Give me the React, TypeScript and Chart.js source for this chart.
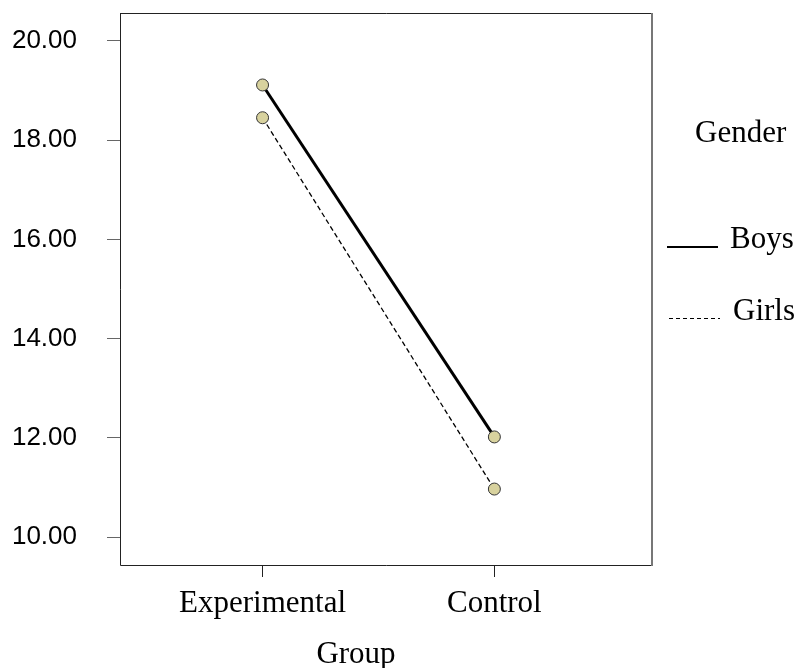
import React, { useEffect, useRef } from "react";
import { Chart, registerables } from "chart.js";

Chart.register(...registerables);

const categories = ["Experimental", "Control"];
const categoryPositions = [1, 2];
const boysValues = [19.11, 12.02];
const girlsValues = [18.45, 10.97];
const yTicks = [10, 12, 14, 16, 18, 20];
const seriesNames = ["Boys", "Girls"];
const legendTitle = "Gender";
const xTitle = "Group";

const SERIF = "'Liberation Serif', 'Times New Roman', serif";
const SANS = "'Liberation Sans', Arial, sans-serif";

const decorPlugin = {
  id: "decor",
  afterDraw(chart: any) {
    const { ctx, chartArea } = chart;
    const { left, right, top, bottom } = chartArea;
    ctx.save();
    // frame
    ctx.lineWidth = 1;
    ctx.strokeStyle = "#222";
    ctx.beginPath();
    ctx.moveTo(left + 0.5, top + 0.5);
    ctx.lineTo(right, top + 0.5);
    ctx.moveTo(left + 0.5, top);
    ctx.lineTo(left + 0.5, bottom + 0.5);
    ctx.lineTo(right, bottom + 0.5);
    ctx.stroke();
    ctx.strokeStyle = "#777";
    ctx.lineWidth = 2;
    ctx.beginPath();
    ctx.moveTo(right, top);
    ctx.lineTo(right, bottom + 1);
    ctx.stroke();

    // x title
    ctx.fillStyle = "#000";
    ctx.font = `31px ${SERIF}`;
    ctx.textAlign = "center";
    ctx.textBaseline = "alphabetic";
    ctx.fillText(xTitle, 356, 663);

    // legend
    ctx.textAlign = "left";
    ctx.fillText(legendTitle, 695, 142);
    ctx.fillText(seriesNames[0], 730, 248);
    ctx.fillText(seriesNames[1], 733, 320);

    ctx.strokeStyle = "#000";
    ctx.lineWidth = 2;
    ctx.beginPath();
    ctx.moveTo(667, 247);
    ctx.lineTo(718, 247);
    ctx.stroke();

    ctx.lineWidth = 1;
    ctx.setLineDash([4, 3]);
    ctx.beginPath();
    ctx.moveTo(669, 318.5);
    ctx.lineTo(720, 318.5);
    ctx.stroke();
    ctx.restore();
  },
};

export default function App() {
  const ref = useRef<HTMLCanvasElement | null>(null);

  useEffect(() => {
    if (!ref.current) return;
    const pointStyle = {
      pointRadius: 6,
      pointHoverRadius: 6,
      pointBackgroundColor: "#d8d29e",
      pointBorderColor: "#333",
      pointBorderWidth: 1,
    };
    const chart = new Chart(ref.current, {
      type: "line",
      data: {
        datasets: [
          {
            label: seriesNames[0],
            data: categoryPositions.map((x, i) => ({ x, y: boysValues[i] })),
            borderColor: "#000",
            borderWidth: 3,
            ...pointStyle,
          },
          {
            label: seriesNames[1],
            data: categoryPositions.map((x, i) => ({ x, y: girlsValues[i] })),
            borderColor: "#000",
            borderWidth: 1.3,
            borderDash: [5, 3],
            ...pointStyle,
          },
        ],
      },
      options: {
        animation: false,
        responsive: false,
        maintainAspectRatio: false,
        layout: { padding: { top: 13, right: 146, left: 0, bottom: 0 } },
        plugins: {
          legend: { display: false },
          tooltip: { enabled: false },
        },
        scales: {
          x: {
            type: "linear",
            min: 0.385,
            max: 2.68,
            afterBuildTicks: (scale: any) => {
              scale.ticks = categoryPositions.map((v) => ({ value: v }));
            },
            afterFit: (scale: any) => {
              scale.height = 103;
              scale.paddingLeft = 0;
              scale.paddingRight = 0;
            },
            border: { display: false },
            grid: {
              drawOnChartArea: false,
              drawTicks: true,
              tickLength: 12,
              color: "#222",
              lineWidth: 1,
            },
            ticks: {
              padding: 8,
              color: "#000",
              font: { family: SERIF, size: 31 },
              maxRotation: 0,
              autoSkip: false,
              callback: (v: any) => {
                const idx = categoryPositions.indexOf(Number(v));
                return idx >= 0 ? categories[idx] : "";
              },
            },
          },
          y: {
            type: "linear",
            min: 9.44,
            max: 20.56,
            afterBuildTicks: (scale: any) => {
              scale.ticks = yTicks.map((v) => ({ value: v }));
            },
            afterFit: (scale: any) => {
              scale.width = 120;
              scale.paddingTop = 0;
              scale.paddingBottom = 0;
            },
            border: { display: false },
            grid: {
              drawOnChartArea: false,
              drawTicks: true,
              tickLength: 13,
              color: "#666",
              lineWidth: 1,
            },
            ticks: {
              padding: 30,
              color: "#000",
              font: { family: SANS, size: 26 },
              callback: (v: any) => Number(v).toFixed(2),
            },
          },
        },
      },
      plugins: [decorPlugin],
    });
    return () => chart.destroy();
  }, []);

  return (
    <div style={{ position: "fixed", left: 0, top: 0, width: 798, height: 668, background: "#fff" }}>
      <canvas ref={ref} width={798} height={668} style={{ width: 798, height: 668, display: "block" }} />
    </div>
  );
}
